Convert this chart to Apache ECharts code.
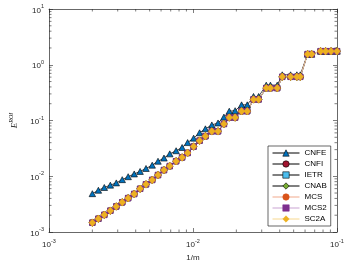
<!DOCTYPE html>
<html><head><meta charset="utf-8">
<script src="https://cdn.jsdelivr.net/npm/echarts@6/dist/echarts.min.js"></script>
<style>html,body{margin:0;padding:0;background:#fff}#c{width:347px;height:267px}</style>
</head><body><div id="c"></div>
<script>
// 1/m grid values (m)
const mValues = [10,11,12,13,15,16,18,19,21,24,26,29,31,35,38,42,46,51,56,61,67,74,82,90,99,109,119,131,145,159,175,192,212,233,256,282,310,341,375,413,454,500];
// E^ROI for CNFE
const cnfe = [1.75,1.75,1.75,1.75,1.55,1.55,0.66,0.66,0.66,0.66,0.431,0.431,0.431,0.27,0.27,0.191,0.191,0.15,0.147,0.115,0.0903,0.0833,0.0709,0.0602,0.0482,0.0402,0.0328,0.0287,0.0252,0.0212,0.0186,0.0158,0.0138,0.0122,0.011,0.00982,0.00869,0.0076,0.00693,0.00629,0.00561,0.00487];
// E^ROI for the second-order schemes (overlapping)
const cnfi = [1.75,1.75,1.75,1.75,1.55,1.55,0.608,0.608,0.608,0.608,0.381,0.381,0.381,0.239,0.239,0.147,0.147,0.113,0.113,0.0867,0.064,0.064,0.0522,0.0435,0.0341,0.0262,0.0218,0.0186,0.0152,0.0129,0.0105,0.00859,0.00716,0.00596,0.00481,0.00405,0.00341,0.00287,0.00241,0.00203,0.00173,0.00147];
const ietr = cnfi.slice();
const cnab = cnfi.slice();
const mcs = cnfi.slice();
const mcs2 = cnfi.slice();
const sc2a = cnfi.slice();
const seriesNames = ['CNFE','CNFI','IETR','CNAB','MCS','MCS2','SC2A'];

const FONT = "'Liberation Sans', Arial, sans-serif";
const AX = '#262626';
const pairs = arr => arr.map((v, i) => [1 / mValues[i], v]);

const styles = {
  CNFE: {symbol:'triangle', fill:'#0072BD', edge:'#000', line:'#000'},
  CNFI: {symbol:'circle', fill:'#A2142F', edge:'#000', line:'#000'},
  IETR: {symbol:'rect', fill:'#4DBEEE', edge:'#000', line:'#000'},
  CNAB: {symbol:'diamond', fill:'#77AC30', edge:'#000', line:'#000'},
  MCS: {symbol:'circle', fill:'#D95319', edge:'#D95319', line:'#F1A98C'},
  MCS2: {symbol:'rect', fill:'#7E2F8E', edge:'#7E2F8E', line:'#C9A3D2'},
  SC2A: {symbol:'diamond', fill:'#EDB120', edge:'#EDB120', line:'#F7D88F'}
};
const dataMap = {CNFE:cnfe, CNFI:cnfi, IETR:ietr, CNAB:cnab, MCS:mcs, MCS2:mcs2, SC2A:sc2a};
const sizes = {triangle:[6.5,6], circle:6, rect:5.5, diamond:[6.5,7.5]};

function supFmt(v){
  const e = Math.round(Math.log10(v));
  return '{b|10}{s|' + e + '}';
}
const rich = {
  b:{fontSize:8, fontFamily:FONT, color:AX, lineHeight:11, verticalAlign:'bottom'},
  s:{fontSize:5.5, fontFamily:FONT, color:AX, lineHeight:11, verticalAlign:'top'}
};

const lineSeries = seriesNames.map(n => ({
  name:n, type:'line', data: pairs(dataMap[n]),
  symbol: styles[n].symbol, symbolSize: sizes[styles[n].symbol],
  itemStyle:{color:styles[n].fill, borderColor:styles[n].edge, borderWidth:0.6},
  lineStyle:{color:styles[n].line, width:0.7},
  emphasis:{disabled:true}, animation:false, z:3
}));

const minorX = [];
[1e-3,1e-2].forEach(d => { for (let k=2;k<=9;k++) minorX.push([k*d, 1]); });
const minorY = [];
[1e-3,1e-2,1e-1,1].forEach(d => { for (let k=2;k<=9;k++) minorY.push([0.01, k*d]); });

function tickRender(isX){
  return function(params, api){
    const cs = params.coordSys;
    const p = api.coord([api.value(0), api.value(1)]);
    const L = 2.5;
    const st = {stroke:AX, lineWidth:0.6};
    if (isX) {
      return {type:'group', children:[
        {type:'line', shape:{x1:p[0], y1:cs.y+cs.height, x2:p[0], y2:cs.y+cs.height-L}, style:st},
        {type:'line', shape:{x1:p[0], y1:cs.y, x2:p[0], y2:cs.y+L}, style:st}
      ]};
    }
    return {type:'group', children:[
      {type:'line', shape:{x1:cs.x, y1:p[1], x2:cs.x+L, y2:p[1]}, style:st},
      {type:'line', shape:{x1:cs.x+cs.width, y1:p[1], x2:cs.x+cs.width-L, y2:p[1]}, style:st}
    ]};
  };
}

const chart = echarts.init(document.getElementById('c'), null, {renderer:'canvas'});
chart.setOption({
  animation:false,
  backgroundColor:'#fff',
  grid:{left:49, right:10, top:9, bottom:31},
  legend:{
    data: seriesNames, orient:'vertical', left:268, top:146,
    itemWidth:27, itemHeight:8, itemGap:3,
    padding:[3,4,3,4], backgroundColor:'#fff', borderColor:AX, borderWidth:0.7, borderRadius:0,
    lineStyle:{width:1},
    itemStyle:{borderWidth:0.6},
    textStyle:{fontSize:8, fontFamily:FONT, color:'#000', lineHeight:8},
    selectedMode:false
  },
  xAxis:[{
    type:'log', min:0.001, max:0.1, logBase:10,
    name:'1/m', nameLocation:'middle', nameGap:22,
    nameTextStyle:{fontSize:8, fontFamily:FONT, color:AX},
    axisLine:{show:true, lineStyle:{color:AX, width:0.7}},
    axisTick:{show:true, inside:true, length:4, lineStyle:{color:AX, width:0.6}},
    axisLabel:{formatter:supFmt, rich:rich, margin:6},
    splitLine:{show:false}
  },{
    type:'log', min:0.001, max:0.1, position:'top',
    axisLine:{show:true, lineStyle:{color:AX, width:0.7}},
    axisTick:{show:true, inside:true, length:4, lineStyle:{color:AX, width:0.6}},
    axisLabel:{show:false}, splitLine:{show:false}
  }],
  yAxis:[{
    type:'log', min:0.001, max:10,
    name:'{e|E}{s|ROI}', nameLocation:'middle', nameGap:27, nameRotate:90,
    nameTextStyle:{rich:{
      e:{fontSize:9, fontStyle:'italic', fontFamily:"'Liberation Serif', serif", color:AX, lineHeight:11, verticalAlign:'bottom'},
      s:{fontSize:6, fontStyle:'italic', fontFamily:"'Liberation Serif', serif", color:AX, lineHeight:11, verticalAlign:'top'}}},
    axisLine:{show:true, lineStyle:{color:AX, width:0.7}},
    axisTick:{show:true, inside:true, length:4, lineStyle:{color:AX, width:0.6}},
    axisLabel:{formatter:supFmt, rich:rich, margin:5},
    splitLine:{show:false}
  },{
    type:'log', min:0.001, max:10, position:'right',
    axisLine:{show:true, lineStyle:{color:AX, width:0.7}},
    axisTick:{show:true, inside:true, length:4, lineStyle:{color:AX, width:0.6}},
    axisLabel:{show:false}, splitLine:{show:false}
  }],
  series: lineSeries.concat([
    {type:'custom', data:minorX, renderItem:tickRender(true), silent:true, z:5, animation:false},
    {type:'custom', data:minorY, renderItem:tickRender(false), silent:true, z:5, animation:false}
  ])
});
</script></body></html>
